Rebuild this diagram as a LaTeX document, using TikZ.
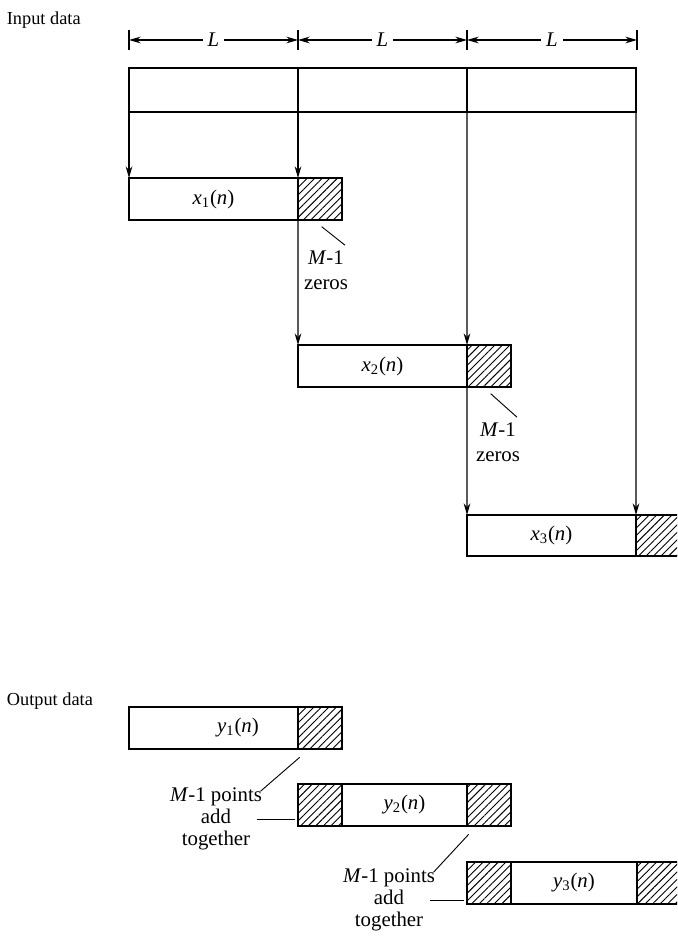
\documentclass[tikz,border=0pt]{standalone}
\usepackage{fontspec}
\setmainfont{Liberation Serif}
\usetikzlibrary{arrows.meta,patterns.meta}

\newcommand{\blksig}[2]{\textit{#1}\textsubscript{#2}(\textit{n})}

\tikzset{
  blk/.style={draw, line width=0.8pt, inner sep=0pt, outer sep=0pt,
    anchor=north west, minimum height=25.2pt, minimum width=#1,
    font=\fontsize{12.5}{15}\selectfont},
  zpad/.style={blk=26.4pt,
    pattern={Lines[angle=45,distance=3.2pt,line width=0.55pt]}},
  flow/.style={-{Stealth[length=7pt,width=4pt]}, line width=0.65pt},
  dim/.style={{Stealth[length=7pt,width=4pt]}-{Stealth[length=7pt,width=4pt]}, line width=0.65pt},
  lead/.style={line width=0.55pt},
  note/.style={align=center, inner sep=1pt, font=\fontsize{12.5}{15}\selectfont},
}

\begin{document}
\begin{tikzpicture}[x=0.6pt,y=-0.6pt,font=\fontsize{11}{13.5}\selectfont]
\clip (0,0) rectangle (677,938);

\node[anchor=west] (indata) at (1,20) {Input data};
\node[anchor=west] (outdata) at (1,701) {Output data};

% block length L
\foreach \k/\xx in {0/129,1/298,2/467,3/637} {
  \coordinate (t\k) at (\xx,40);
  \draw[line width=0.65pt] (\xx,30) -- (\xx,50);
}
\foreach \a/\b in {0/1,1/2,2/3}
  \draw[dim] (t\a) -- node[fill=white, inner sep=3pt, font=\fontsize{12.5}{15}\selectfont] (len\b) {\textit{L}} (t\b);

% input record
\node[blk=101.4pt, minimum height=26.4pt] (in1) at (129,68) {};
\node[blk=101.4pt, minimum height=26.4pt] (in2) at (in1.north east) {};
\node[blk=101.4pt, minimum height=26.4pt] (in3) at (in2.north east) {};

% sections with M-1 zeros
\node[blk=101.4pt] (x1) at (129,178) {\blksig{x}{1}};
\node[zpad] (z1) at (x1.north east) {};
\node[blk=101.4pt] (x2) at (298,345) {\blksig{x}{2}};
\node[zpad] (z2) at (x2.north east) {};
\node[blk=101.4pt, minimum height=24.6pt] (x3) at (467,515) {\blksig{x}{3}};
\node[zpad, minimum height=24.6pt] (z3) at (x3.north east) {};

\draw[flow] (in1.south west) -- (x1.north west);
\draw[flow] (in2.south west) -- (x1.north east);
\draw[flow] (x1.south east) -- (x2.north west);
\draw[flow] (in3.south west) -- (x2.north east);
\draw[flow] (x2.south east) -- (x3.north west);
\draw[flow] (in3.south east) -- (x3.north east);

\node[note] (zr1) at (326,270) {\textit{M}-1\\zeros};
\draw[lead] ([shift={(1pt,-4pt)}]z1.south) -- ([shift={(-3pt,2pt)}]zr1.north east);
\node[note] (zr2) at (498,442) {\textit{M}-1\\zeros};
\draw[lead] ([shift={(1pt,-4pt)}]z2.south) -- ([shift={(-3pt,2pt)}]zr2.north east);

% output sections
\node[blk=101.4pt] (y1) at (129,707) {};
\node[font=\fontsize{12.5}{15}\selectfont] (y1lab) at (238,728) {\blksig{y}{1}};
\node[zpad] (yz1) at (y1.north east) {};

\node[zpad] (ya2) at (298,784) {};
\node[blk=75pt] (yb2) at (ya2.north east) {\blksig{y}{2}};
\node[zpad] (yc2) at (yb2.north east) {};

\node[zpad] (ya3) at (467,862) {};
\node[blk=75.6pt] (yb3) at (ya3.north east) {\blksig{y}{3}};
\node[zpad] (yc3) at (yb3.north east) {};

\node[note, font=\fontsize{12.5}{13}\selectfont] (pt1) at (216,819) {\textit{M}-1 points\\add\\together};
\draw[lead] ([shift={(1pt,-5pt)}]yz1.south west) -- ([shift={(-2pt,-3pt)}]pt1.north east);
\draw[lead] ([shift={(-4pt,-0.5pt)}]pt1.east) -- ([shift={(-2pt,-0.5pt)}]pt1.east -| ya2.west);

\node[note, font=\fontsize{12.5}{13}\selectfont] (pt2) at (389,900) {\textit{M}-1 points\\add\\together};
\draw[lead] ([shift={(1pt,-5pt)}]yc2.south west) -- ([shift={(-2pt,-3pt)}]pt2.north east);
\draw[lead] ([shift={(-4pt,-0.5pt)}]pt2.east) -- ([shift={(-2pt,-0.5pt)}]pt2.east -| ya3.west);
\end{tikzpicture}
\end{document}
